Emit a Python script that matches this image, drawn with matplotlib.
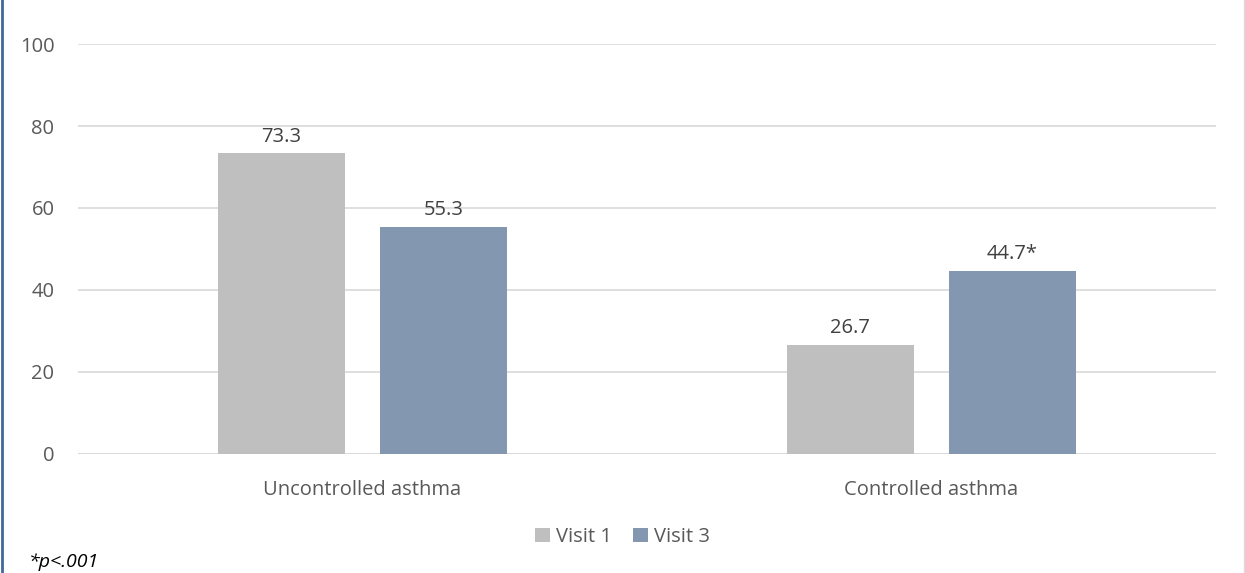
import matplotlib.pyplot as plt
from matplotlib.lines import Line2D
import numpy as np

categories = ['Uncontrolled asthma', 'Controlled asthma']
visit1 = [73.3, 26.7]
visit3 = [55.3, 44.7]
labels1 = ['73.3', '26.7']
labels3 = ['55.3', '44.7*']

plt.rcParams['font.family'] = ['Open Sans', 'DejaVu Sans']

fig = plt.figure(figsize=(12.45, 5.73), dpi=100)
ax = fig.add_axes([0.0627, 0.2077, 0.9140, 0.7155])

x = np.arange(len(categories))
w = 0.223
off = 0.1425
b1 = ax.bar(x - off, visit1, w, color='#BFBFBF', label='Visit 1', zorder=3)
b3 = ax.bar(x + off, visit3, w, color='#8497B0', label='Visit 3', zorder=3)

for bars, labs in [(b1, labels1), (b3, labels3)]:
    for rect, lab in zip(bars, labs):
        ax.annotate(lab, (rect.get_x() + rect.get_width() / 2, rect.get_height()),
                    xytext=(0, 5), textcoords='offset points', ha='center', va='bottom',
                    fontsize=14.5, color='#404040')

ax.set_xlim(-0.5, 1.5)
ax.set_ylim(0, 100)
ax.set_yticks(range(0, 101, 20))
ax.set_xticks(x)
ax.set_xticklabels(categories)
ax.tick_params(axis='both', length=0, labelsize=14.5, labelcolor='#595959')
ax.tick_params(axis='x', pad=19)
ax.tick_params(axis='y', pad=17)
ax.grid(axis='y', color='#D9D9D9', linewidth=1.2, zorder=0)
for s in ax.spines.values():
    s.set_visible(False)
ax.axhline(0, color='#D9D9D9', linewidth=1.2, zorder=2)

fig.legend(handles=[b1, b3], loc='center', bbox_to_anchor=(0.5, 0.063), ncol=2,
           frameon=False, fontsize=14.5, labelcolor='#595959', handlelength=0.75,
           handleheight=0.75, handletextpad=0.3, columnspacing=1.0)

fig.text(0.023, 0.019, '*p<.001', fontsize=14, style='italic', color='black', va='center')

fig.add_artist(Line2D([0.002, 0.002], [0, 1], transform=fig.transFigure, color='#41689C', linewidth=2))
fig.add_artist(Line2D([0.9992, 0.9992], [0, 1], transform=fig.transFigure, color='#D6DCE5', linewidth=1))

fig.savefig('out.png', dpi=100)
